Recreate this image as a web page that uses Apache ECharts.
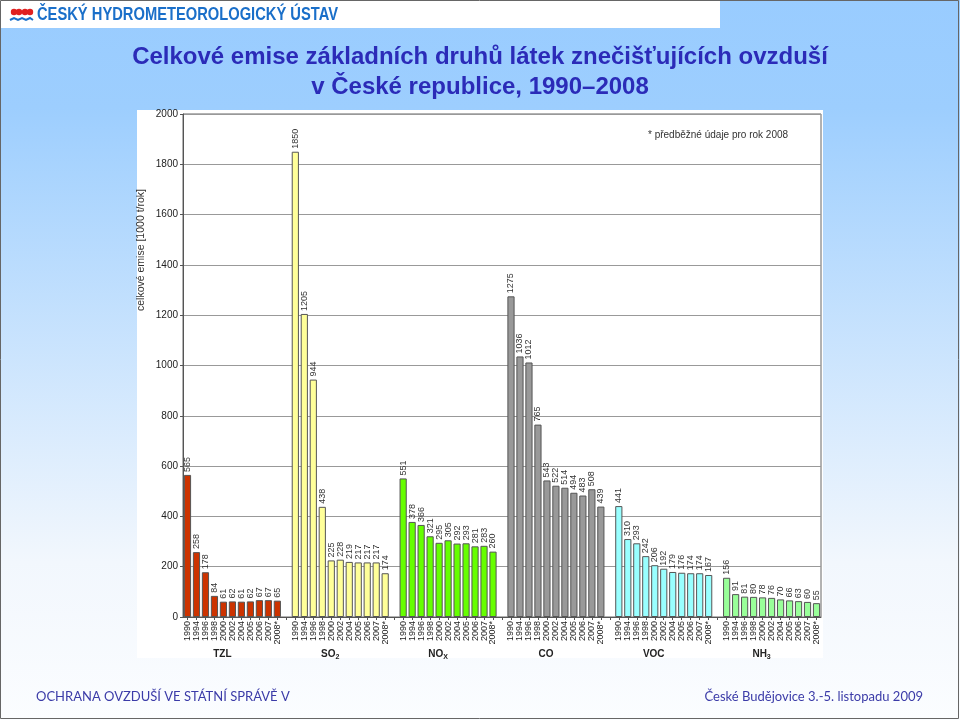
<!DOCTYPE html>
<html>
<head>
<meta charset="utf-8">
<script src="https://cdn.jsdelivr.net/npm/echarts@6/dist/echarts.min.js"></script>
<style>
html,body{margin:0;padding:0;background:#fff;}
#c{width:960px;height:720px;}
</style>
</head>
<body>
<div id="c"></div>
<script>
// ---- data ----
const years = ['1990','1994','1996','1998','2000','2002','2004','2005','2006','2007','2008*'];
const groupNames = ['TZL','SO|2','NO|X','CO','VOC','NH|3'];
const tzl = [565, 258, 178, 84, 61, 62, 61, 62, 67, 67, 65];
const so2 = [1850, 1205, 944, 438, 225, 228, 219, 217, 217, 217, 174];
const nox = [551, 378, 366, 321, 295, 305, 292, 293, 281, 283, 260];
const co  = [1275, 1036, 1012, 765, 543, 522, 514, 494, 483, 508, 439];
const voc = [441, 310, 293, 242, 206, 192, 179, 176, 174, 174, 167];
const nh3 = [156, 91, 81, 80, 78, 76, 70, 66, 63, 60, 55];
const yTicks = [0, 200, 400, 600, 800, 1000, 1200, 1400, 1600, 1800, 2000];
const groupValues = [tzl, so2, nox, co, voc, nh3];
const groupColors = ['#cc3300', '#ffff99', '#66ff00', '#999999', '#99ffff', '#99ff99'];

// ---- build category axis (groups separated by one empty slot) ----
const FONT = 'Liberation Sans, Arial, sans-serif';
const cats = [];
const groupCats = [];
groupValues.forEach((vals, g) => {
  years.forEach((y, i) => { cats.push(y); groupCats.push(i === 5 ? groupNames[g] : ''); });
  if (g < groupValues.length - 1) { cats.push(''); groupCats.push(''); }
});
const series = groupValues.map((vals, g) => {
  const data = cats.map(() => '-');
  vals.forEach((v, i) => { data[g * 12 + i] = v; });
  return {
    type: 'bar',
    xAxisIndex: 0,
    stack: 'all',
    barWidth: '80%',
    data: data,
    itemStyle: { color: groupColors[g], borderColor: '#555', borderWidth: 1 },
    label: {
      show: true, position: 'top', rotate: 90, align: 'left', verticalAlign: 'middle',
      distance: 3, fontSize: 9, color: '#333', fontFamily: FONT
    }
  };
});

// header text squeezed to the reference width
const headerText = 'ČESKÝ HYDROMETEOROLOGICKÝ ÚSTAV';
const headerFont = 'bold 18px "Liberation Sans", Arial, sans-serif';
const mctx = document.createElement('canvas').getContext('2d');
mctx.font = headerFont;
const headerScale = 301 / mctx.measureText(headerText).width;

const chart = echarts.init(document.getElementById('c'), null, { renderer: 'canvas' });
chart.setOption({
  animation: false,
  backgroundColor: 'transparent',
  title: {
    text: 'Celkové emise základních druhů látek znečišťujících ovzduší\nv České republice, 1990–2008',
    left: 'center', top: 37,
    textStyle: { fontFamily: FONT, fontSize: 24, fontWeight: 'bold', color: '#2b2bb8', lineHeight: 30, align: 'center' }
  },
  graphic: [
    { type: 'rect', z: -100, silent: true, shape: { x: 0, y: 0, width: 960, height: 720 },
      style: { fill: new echarts.graphic.LinearGradient(0, 0, 0, 1, [
        { offset: 0, color: '#99ccff' }, { offset: 0.15, color: '#9dcefe' },
        { offset: 0.78, color: '#f2f7fd' }, { offset: 1, color: '#fbfdff' }]) } },
    { type: 'rect', z: -90, silent: true, shape: { x: 0, y: 0, width: 720, height: 28 },
      style: { fill: '#ffffff' } },
    { type: 'rect', z: -90, silent: true, shape: { x: 137, y: 110, width: 686, height: 548 },
      style: { fill: '#ffffff' } },
    { type: 'rect', z: 100, silent: true, shape: { x: 0.5, y: 0.5, width: 958, height: 718 },
      style: { fill: 'none', stroke: '#666', lineWidth: 1 } },
    // logo
    { type: 'circle', shape: { cx: 14, cy: 12, r: 3.2 }, style: { fill: '#e02020' } },
    { type: 'circle', shape: { cx: 19, cy: 12, r: 3.2 }, style: { fill: '#e02020' } },
    { type: 'circle', shape: { cx: 25, cy: 12, r: 3.2 }, style: { fill: '#e02020' } },
    { type: 'circle', shape: { cx: 30, cy: 12, r: 3.2 }, style: { fill: '#e02020' } },
    { type: 'polyline', shape: { points: [[10, 20], [14, 18], [18, 20], [22, 18], [26, 20], [30, 18], [33, 20]] },
      style: { stroke: '#1a6fc9', lineWidth: 2, fill: 'none' } },
    { type: 'text', x: 37, y: 15, scaleX: headerScale,
      style: { text: headerText, font: headerFont, fill: '#1a6fc9', verticalAlign: 'middle' } },
    // y axis name
    { type: 'text', x: 141, y: 250, rotation: Math.PI / 2,
      style: { text: 'celkové emise [1000 t/rok]', font: '10.5px ' + FONT, fill: '#333', align: 'center', verticalAlign: 'middle' } },
    // footnote
    { type: 'text', x: 648, y: 135,
      style: { text: '* předběžné údaje pro rok 2008', font: '10px ' + FONT, fill: '#333', verticalAlign: 'middle' } },
    // footer
    { type: 'text', x: 36, y: 697,
      style: { text: 'OCHRANA OVZDUŠÍ VE STÁTNÍ SPRÁVĚ V', font: '13px Lato, "Open Sans", sans-serif', fill: '#3b3ba8', verticalAlign: 'middle' } },
    { type: 'text', x: 923, y: 697,
      style: { text: 'České Budějovice 3.-5. listopadu 2009', font: '13px Lato, "Open Sans", sans-serif', fill: '#3b3ba8', align: 'right', verticalAlign: 'middle' } }
  ],
  grid: {
    left: 183, right: 139, top: 114, bottom: 103,
    show: true, backgroundColor: '#ffffff', borderColor: '#666', borderWidth: 1
  },
  xAxis: [{
    type: 'category', data: cats, boundaryGap: true,
    axisLine: { lineStyle: { color: '#555' } },
    axisTick: { show: true, alignWithLabel: true, length: 3, lineStyle: { color: '#555' } },
    axisLabel: { interval: 0, rotate: 90, fontSize: 9, color: '#222', fontFamily: FONT, margin: 4 }
  }, {
    type: 'category', data: groupCats, position: 'bottom', boundaryGap: true,
    axisLine: { show: false }, axisTick: { show: false },
    axisLabel: {
      interval: 0, margin: 30, padding: [0, 20, 0, 0],
      formatter: function (v) {
        if (!v) return '';
        const p = v.split('|');
        return p.length > 1 ? '{b|' + p[0] + '}{s|' + p[1] + '}' : '{b|' + p[0] + '}';
      },
      rich: {
        b: { fontSize: 10, fontWeight: 'bold', color: '#222', fontFamily: FONT, lineHeight: 14 },
        s: { fontSize: 7, fontWeight: 'bold', color: '#222', fontFamily: FONT, lineHeight: 8, verticalAlign: 'bottom' }
      }
    }
  }],
  yAxis: {
    type: 'value', min: yTicks[0], max: yTicks[yTicks.length - 1], interval: yTicks[1] - yTicks[0],
    axisLine: { show: true, lineStyle: { color: '#555' } },
    axisTick: { show: true, length: 3, lineStyle: { color: '#555' } },
    axisLabel: { fontSize: 10, color: '#222', fontFamily: FONT, margin: 5, formatter: function (v) { return String(v); } },
    splitLine: { lineStyle: { color: '#999', width: 1 } }
  },
  series: series
});
</script>
</body>
</html>
